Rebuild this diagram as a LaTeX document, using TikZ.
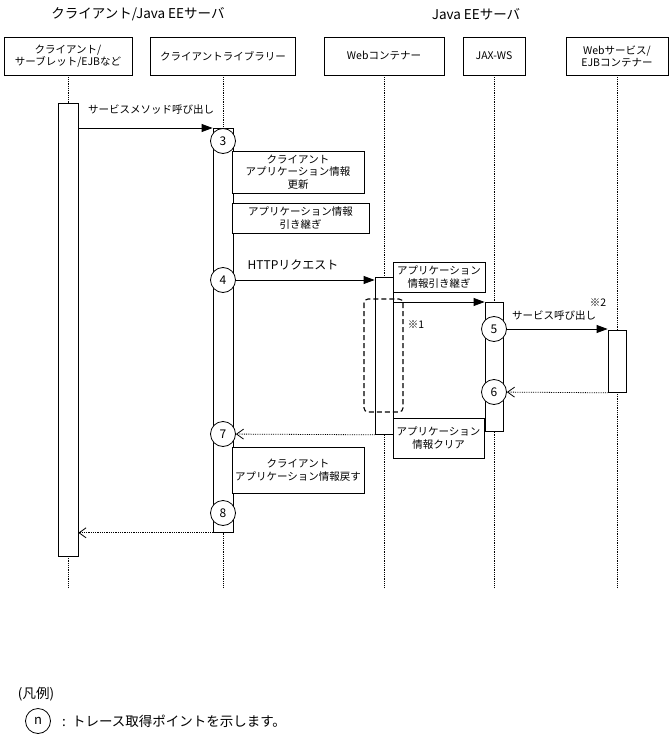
\documentclass[tikz,border=0pt]{standalone}
\usepackage{fontspec}
\setmainfont{Noto Sans CJK JP}
\usepackage{tikz}
\usetikzlibrary{arrows.meta}
\tikzset{%
  head/.style={draw, line width=0.8pt, minimum height=38pt, align=center, inner sep=1pt, font=\fontsize{10.5}{12}\selectfont},
  lifeline/.style={densely dotted, line width=0.8pt},
  bar/.style={draw, fill=white, line width=0.8pt, inner sep=0pt, minimum width=20pt, anchor=north},
  note/.style={draw, fill=white, line width=0.8pt, align=center, inner sep=1pt, font=\fontsize{10.5}{12.5}\selectfont},
  tp/.style={draw, circle, fill=white, line width=0.8pt, minimum size=25pt, inner sep=0pt, font=\fontsize{12}{14}\selectfont},
  call/.style={line width=0.8pt, -{Triangle[length=11pt,width=8pt]}},
  reply/.style={densely dotted, line width=0.8pt, -{Straight Barb[length=7pt,width=10pt]}},
  lbl/.style={inner sep=1pt, font=\fontsize{10.5}{12}\selectfont},
}
\begin{document}
\begin{tikzpicture}[x=1pt, y=-1pt]
\useasboundingbox (0,0) rectangle (671,741);
\node[font=\fontsize{13.5}{15}\selectfont] (t1) at (138,14) {クライアント/Java EEサーバ};
\node[font=\fontsize{13.5}{15}\selectfont] (t2) at (476,14) {Java EEサーバ};
\node[head, minimum width=128pt] (cl) at (68,56) {クライアント/\\サーブレット/EJBなど};
\node[head, minimum width=145pt] (lb) at (223,56) {クライアントライブラリー};
\node[head, minimum width=120pt] (wc) at (384,56) {Webコンテナー};
\node[head, minimum width=62pt] (jx) at (494,56) {JAX-WS};
\node[head, minimum width=102pt] (ws) at (617,56) {Webサービス/\\EJBコンテナー};
\coordinate (bottom) at (0,587);
\foreach \n in {cl,lb,wc,jx,ws}
  \draw[lifeline] (\n.south) -- (\n.south |- bottom);
\node[bar, minimum height=453pt] (clbar) at (68,103) {};
\node[bar, minimum height=404pt] (lbbar) at (223,128) {};
\node[bar, minimum width=18pt, minimum height=157pt] (wcbar) at (384,277) {};
\node[bar, minimum width=18pt, minimum height=129pt] (jxbar) at (494,302) {};
\node[bar, minimum width=18pt, minimum height=62pt] (wsbar) at (617,330) {};
\draw[dash pattern=on 5pt off 3pt, rounded corners=4pt, line width=1.1pt] (364,299) rectangle (403,412);
\node[tp] (p3) at (223,141) {3};
\node[tp] (p4) at (223,280) {4};
\node[tp] (p5) at (494,329) {5};
\node[tp] (p6) at (494,392) {6};
\node[tp] (p7) at (223,434) {7};
\node[tp] (p8) at (223,513) {8};
\draw[call] (clbar.east |- lbbar.north) -- (lbbar.north west);
\node[lbl] (m1) at (151,110) {サービスメソッド呼び出し};
\draw[call] (p4) -- (p4 -| wcbar.west);
\node[inner sep=1pt, font=\fontsize{12}{14}\selectfont] (m2) at (293,265) {HTTPリクエスト};
\draw[call] (jxbar.north -| wcbar.east) -- (jxbar.north west);
\draw[call] (p5) -- (p5 -| wsbar.west);
\node[lbl] (m3) at (554,316) {サービス呼び出し};
\node[lbl] (k2) at (598,303) {※2};
\node[lbl] (k1) at (416,325) {※1};
\draw[reply] (wsbar.south west) -- (p6);
\draw[reply] (wcbar.south west) -- (p7);
\draw[reply] (lbbar.south west) -- (lbbar.south west -| clbar.east);
\node[note, minimum width=132pt, minimum height=42pt] (n1) at (298,172) {クライアント\\アプリケーション情報\\更新};
\node[note, minimum width=137pt, minimum height=30pt] (n2) at (300.5,218) {アプリケーション情報\\引き継ぎ};
\node[note, minimum width=92pt, minimum height=30pt] (n3) at (439,277) {アプリケーション\\情報引き継ぎ};
\node[note, minimum width=91pt, minimum height=40pt] (n4) at (438.5,438) {アプリケーション\\情報クリア};
\node[note, minimum width=132pt, minimum height=46pt] (n5) at (298,470) {クライアント\\アプリケーション情報戻す};
\node[inner sep=1pt, font=\fontsize{13.5}{15}\selectfont] (lg) at (36,694) {(凡例)};
\node[tp, minimum size=25pt, font=\fontsize{13}{15}\selectfont] (lgn) at (38,721) {n};
\node[inner sep=1pt, anchor=west, font=\fontsize{13.5}{15}\selectfont] (lgtxt) at (61,721) {:\ \ トレース取得ポイントを示します。};
\end{tikzpicture}
\end{document}
